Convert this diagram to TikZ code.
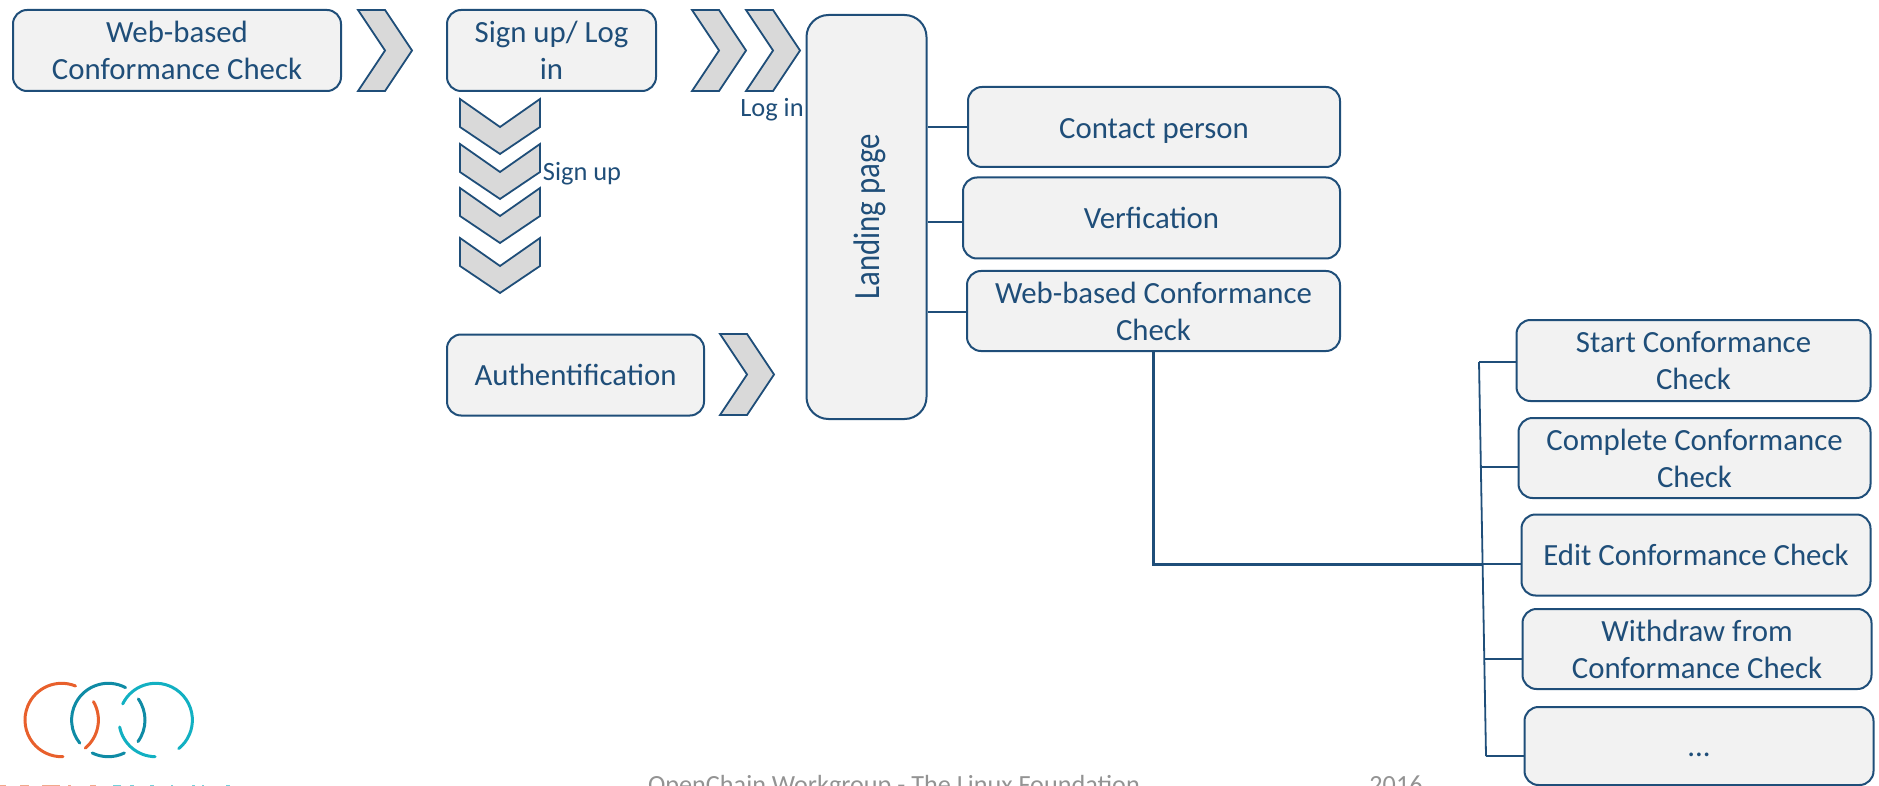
\documentclass[tikz,border=0pt]{standalone}
\usepackage{graphicx}
\usepackage{fontspec}
\setmainfont{Carlito}
\definecolor{navy}{HTML}{1F4E79}
\definecolor{boxfill}{HTML}{F2F2F2}
\definecolor{chevfill}{HTML}{D9D9D9}
\definecolor{orangec}{HTML}{E8602C}
\definecolor{tealdark}{HTML}{0F8BA5}
\definecolor{tealc}{HTML}{12B0C2}
\tikzset{
  boxn/.style={draw=navy,fill=boxfill,line width=1pt,rounded corners=7pt,align=center,text=navy,inner sep=0pt,
    font=\fontsize{15.4}{18.5}\selectfont},
  lab/.style={text=navy,inner sep=0pt,font=\fontsize{13.2}{15}\selectfont},
  chevs/.style={draw=navy,fill=chevfill,line width=0.9pt,line join=miter},
  rchev/.pic={\draw[chevs] (0,0)--(27,0)--(54,40.5)--(27,81)--(0,81)--(27,40.5)--cycle;},
  dchev/.pic={\draw[chevs] (0,0)--(40,28)--(80,0)--(80,28)--(40,55)--(0,28)--cycle;},
  conn/.style={draw=navy,line width=0.9pt},
  thickconn/.style={draw=navy,line width=1.5pt},
  logoarc/.style={line width=1.5pt,line cap=round},
  foot/.style={text=gray!85,inner sep=0pt,anchor=base,font=\fontsize{13.1}{15}\selectfont},
}
\begin{document}
\begin{tikzpicture}[x=0.5pt,y=-0.5pt]
\useasboundingbox (0,0) rectangle (1879,786);
\clip (0,0) rectangle (1879,786);
% boxes
\node[boxn,minimum width=164pt,minimum height=40.5pt] (wb) at (177,50.5) {Web-based\\Conformance Check};
\node[boxn,minimum width=104.5pt,minimum height=40.5pt] (sign) at (551.5,50.5) {Sign up/ Log\\in};
\node[boxn,minimum width=128.5pt,minimum height=40.5pt] (auth) at (575.5,375) {Authentification};
\node[boxn,minimum width=60pt,minimum height=202pt,rounded corners=11pt] (land) at (866.5,217) {};
\node[text=navy,inner sep=0pt,rotate=90,font=\fontsize{15.4}{18}\selectfont] (landt) at (870,217) {\scalebox{1}[1.2]{Landing page}};
\node[boxn,minimum width=186pt,minimum height=40pt] (contact) at (1154,127) {\raisebox{-1.8pt}[\height][\depth]{Contact person}};
\node[boxn,minimum width=188.5pt,minimum height=40.5pt] (verf) at (1151.5,218) {Verfication};
\node[boxn,minimum width=186.5pt,minimum height=40pt] (wbcc) at (1153.5,311) {Web-based Conformance\\Check};
\node[boxn,minimum width=177pt,minimum height=40.5pt] (start) at (1693.5,360.5) {Start Conformance\\Check};
\node[boxn,minimum width=176pt,minimum height=40pt] (comp) at (1694.5,458) {Complete Conformance\\Check};
\node[boxn,minimum width=174.5pt,minimum height=40.5pt] (edit) at (1696,555) {Edit Conformance Check};
\node[boxn,minimum width=174.5pt,minimum height=40pt] (wd) at (1697,649) {Withdraw from\\Conformance Check};
\node[boxn,minimum width=174.5pt,minimum height=39pt] (more) at (1699,746) {\raisebox{-4.5pt}[\height][\depth]{...}};
% chevrons
\pic at (358,10) {rchev};
\pic at (692,10) {rchev};
\pic at (746,10) {rchev};
\pic at (720,334) {rchev};
\pic at (460,99) {dchev};
\pic at (460,144) {dchev};
\pic at (460,188) {dchev};
\pic at (460,238) {dchev};
% labels
\node[lab] (login) at (772,110) {Log in};
\node[lab] (signup) at (582,174) {Sign up};
% connectors
\draw[conn] (land.east |- 0,127) -- (contact.west |- 0,127);
\draw[conn] (land.east |- 0,222) -- (verf.west |- 0,222);
\draw[conn] (land.east |- 0,312) -- (wbcc.west |- 0,312);
\coordinate (b1) at (1479,362);
\coordinate (b2) at (1481,467);
\coordinate (b3) at (1482,564);
\coordinate (b4) at (1484,659);
\coordinate (b5) at (1486,756);
\coordinate (trunk) at (1153,564);
\draw[conn] (b1) -- (b5);
\draw[conn] (b1) -- (start.west |- b1);
\draw[conn] (b2) -- (comp.west |- b2);
\draw[conn] (b3) -- (edit.west |- b3);
\draw[conn] (b4) -- (wd.west |- b4);
\draw[conn] (b5) -- (more.west |- b5);
\draw[thickconn] (wbcc.south -| trunk) -- (trunk) -- (b3);
% logo
\begin{scope}[logoarc]
\draw[orangec] (61.7,720) ++(-68:36.7) arc (-68:-272:36.7);
\draw[orangec] (61.7,720) ++(-30:36.7) arc (-30:50:36.7);
\draw[tealdark] (108.3,720) ++(-62:36.7) arc (-62:-219:36.7);
\draw[tealdark] (108.3,720) ++(64:36.7) arc (64:116:36.7);
\draw[tealdark] (108.3,720) ++(-35:36.7) arc (-35:36:36.7);
\draw[tealc] (155.7,720) ++(-154:36.7) arc (-154:51:36.7);
\draw[tealc] (155.7,720) ++(91:36.7) arc (91:169:36.7);
\end{scope}
% clipped tops of the logo lettering at the lower edge
\foreach \a/\b in {0/6,20/29,42/60,68/71,90/96}
  \fill[orangec!55] (\a,785) rectangle (\b,786);
\foreach \a/\b in {113/121,130/134,150/154,171/173,192/195,202/204,226/230}
  \fill[tealc!60] (\a,785) rectangle (\b,786);
% footer
\node[foot] (ft) at (894,793.5) {OpenChain Workgroup - The Linux Foundation};
\node[foot] (yr) at (1396,793.5) {2016};
\end{tikzpicture}
\end{document}
